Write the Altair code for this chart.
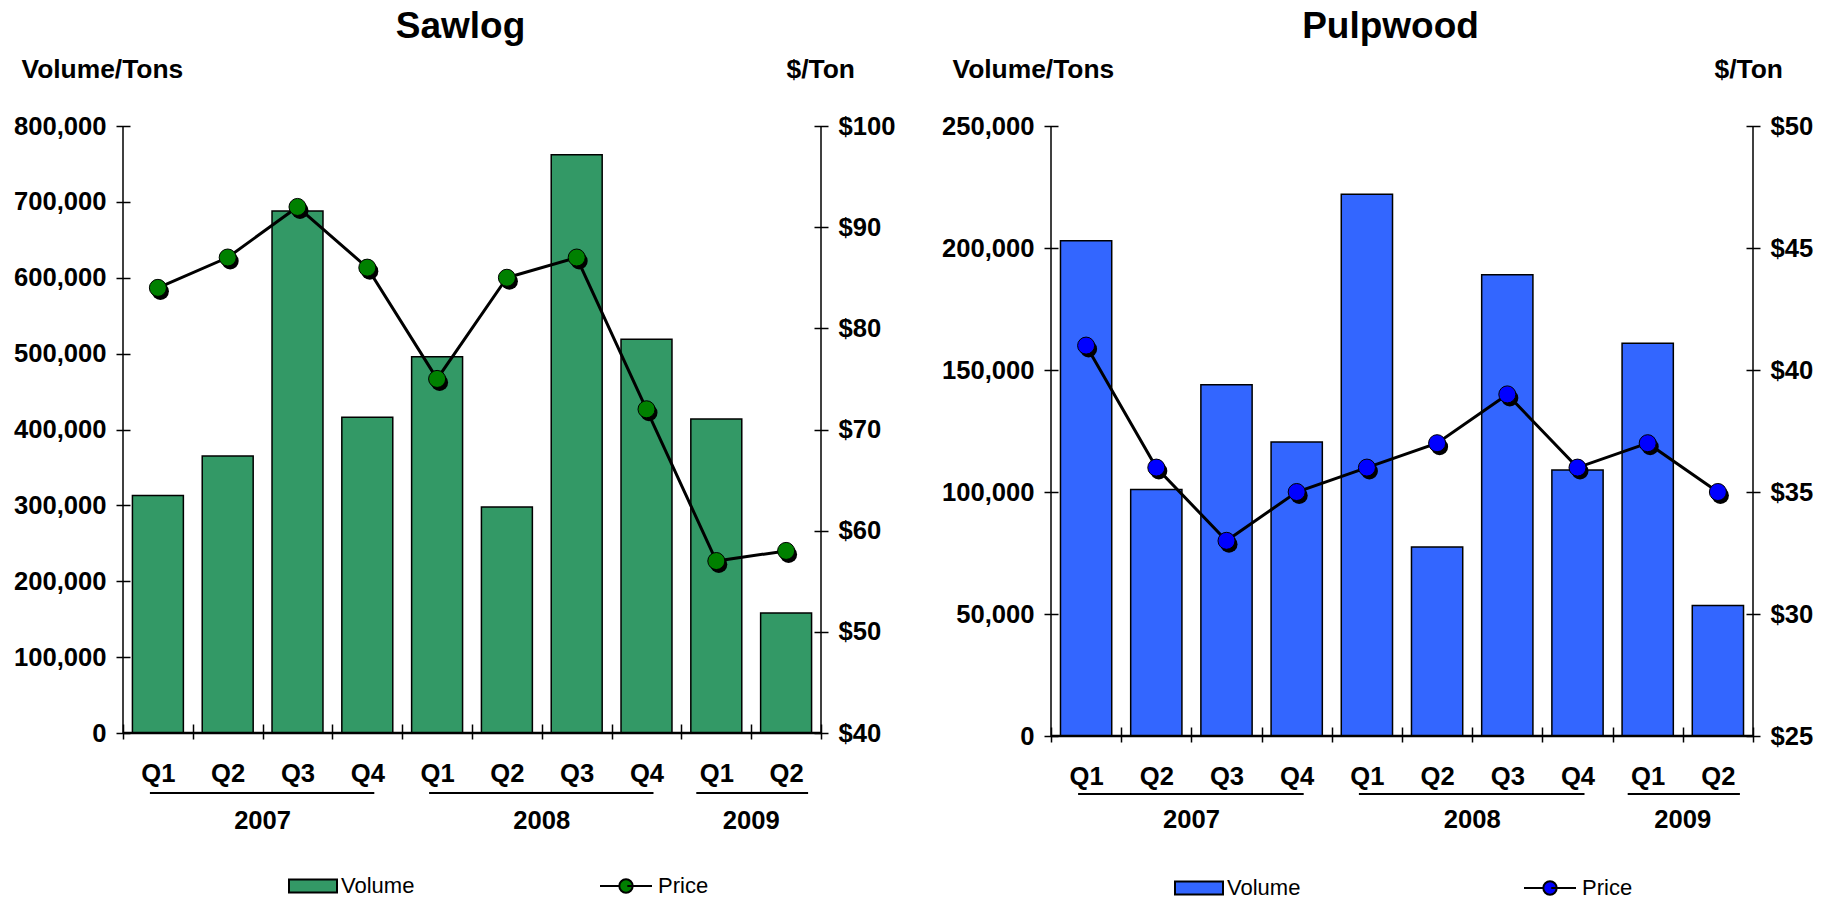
import altair as alt
import pandas as pd

FONT = "Liberation Sans"

# Quarters on the category axis, grouped by year
quarters = ["Q1", "Q2", "Q3", "Q4", "Q1", "Q2", "Q3", "Q4", "Q1", "Q2"]
years = ["2007", "2007", "2007", "2007", "2008", "2008", "2008", "2008", "2009", "2009"]

# Sawlog: volume (tons) and price ($/ton)
sawlog_volume = [313000, 365000, 688000, 416000, 496000, 298000, 762000, 519000, 414000, 158000]
sawlog_price = [84, 87, 92, 86, 75, 85, 87, 72, 57, 58]

# Pulpwood: volume (tons) and price ($/ton)
pulp_volume = [203000, 101000, 144000, 120500, 222000, 77500, 189000, 109000, 161000, 53500]
pulp_price = [41, 36, 33, 35, 36, 37, 39, 36, 37, 35]

# Axis tick values
sawlog_volume_ticks = [0, 100000, 200000, 300000, 400000, 500000, 600000, 700000, 800000]
sawlog_price_ticks = [40, 50, 60, 70, 80, 90, 100]
pulp_volume_ticks = [0, 50000, 100000, 150000, 200000, 250000]
pulp_price_ticks = [25, 30, 35, 40, 45, 50]

series_names = ["Volume", "Price"]

keys = [f"{y} {q}" for y, q in zip(years, quarters)]

# Year groups: first/last quarter of each year and the quarter whose right edge is the group centre
year_names = list(dict.fromkeys(years))
year_first = [keys[years.index(y)] for y in year_names]
year_last = [keys[len(years) - 1 - years[::-1].index(y)] for y in year_names]
year_count = [years.count(y) for y in year_names]
year_anchor = [keys[years.index(y) + c // 2 - 1] for y, c in zip(year_names, year_count)]

# Legend symbols (unit box scaled by the legend symbol size)
RECT_PATH = "M-2.4,-0.65H2.4V0.65H-2.4Z"
PRICE_PATH = ("M-3.0,0H-1.07M-0.27,0H2.2"
              "M-1.07,0A0.67,0.67 0 1,0 0.27,0A0.67,0.67 0 1,0 -1.07,0Z")


def panel(title, volume, price, vol_ticks, price_ticks, bar_color, dot_color,
          width, height, lay):
    df = pd.DataFrame({"key": keys, "volume": volume, "price": price})
    span_df = pd.DataFrame({"key": year_first, "key_end": year_last,
                            "year": year_names, "n": year_count})
    label_df = pd.DataFrame({"key": year_anchor, "year": year_names})
    legend_df = pd.DataFrame({"series": series_names})
    one_row = pd.DataFrame({"z": [0]})

    x_scale = alt.Scale(domain=keys, paddingInner=0, paddingOuter=0)
    x_axis = alt.Axis(
        title=None, labelExpr="split(datum.label, ' ')[1]", labelAngle=0,
        tickBand="extent", offset=-9, tickSize=15, tickWidth=1.5, domain=False,
        labelPadding=22, labelFontSize=25.6, labelFontWeight="bold",
    )
    x = alt.X("key:N", scale=x_scale, axis=x_axis)
    x_plain = alt.X("key:N", scale=x_scale)

    bars = alt.Chart(df).mark_bar(
        width={"band": 0.73}, color=bar_color, stroke="black", strokeWidth=1.5
    ).encode(
        x=x,
        y=alt.Y("volume:Q",
                scale=alt.Scale(domain=[vol_ticks[0], vol_ticks[-1]], nice=False),
                axis=alt.Axis(
                    orient="left", values=vol_ticks, format=",.0f", offset=-7,
                    tickSize=14, tickWidth=1.5, domain=False, labelPadding=10,
                    labelOverlap=False,
                    title="Volume/Tons", titleAngle=0, titleAlign="left",
                    titleBaseline="alphabetic", titleX=lay["left_title_x"], titleY=-49,
                )),
    )

    price_y = alt.Y("price:Q",
                    scale=alt.Scale(domain=[price_ticks[0], price_ticks[-1]], nice=False),
                    axis=alt.Axis(
                        orient="right", values=price_ticks, format="$,.0f", offset=-7,
                        tickSize=14, tickWidth=1.5, domain=False, labelPadding=10,
                        labelOverlap=False,
                        title="$/Ton", titleAngle=0, titleAlign="left",
                        titleBaseline="alphabetic", titleX=lay["right_title_x"], titleY=-49,
                    ))
    base = alt.Chart(df).encode(x=x_plain, y=price_y)
    line = base.mark_line(color="black", strokeWidth=3)
    shadow = base.mark_circle(size=290, color="black", opacity=1, xOffset=2.5, yOffset=3.5)
    dots = base.mark_circle(size=290, color=dot_color, opacity=1,
                            stroke="black", strokeWidth=1)
    price_layer = alt.layer(line, shadow, dots)

    frame_left = alt.Chart(one_row).mark_rule(color="black", strokeWidth=1.5).encode(
        x=alt.value(0), y=alt.value(0), y2=alt.value(height))
    frame_right = alt.Chart(one_row).mark_rule(color="black", strokeWidth=1.5).encode(
        x=alt.value(width), y=alt.value(0), y2=alt.value(height))
    frame_bottom = alt.Chart(one_row).mark_rule(color="black", strokeWidth=2.5).encode(
        x=alt.value(0), x2=alt.value(width), y=alt.value(height))

    span_full = alt.Chart(span_df).transform_filter("datum.n == 4").mark_rule(
        color="black", strokeWidth=2, xOffset=-8, x2Offset=7
    ).encode(x=x_plain, x2="key_end:N", y=alt.value(height + lay["line_dy"]))
    span_part = alt.Chart(span_df).transform_filter("datum.n < 4").mark_rule(
        color="black", strokeWidth=2, xOffset=-20, x2Offset=22
    ).encode(x=x_plain, x2="key_end:N", y=alt.value(height + lay["line_dy"]))

    year_text = alt.Chart(label_df).mark_text(
        font=FONT, fontSize=25.6, fontWeight="bold", color="black",
        baseline="alphabetic", align="center"
    ).encode(x=alt.X("key:N", scale=x_scale, bandPosition=1),
             y=alt.value(height + lay["text_dy"]), text="year:N")

    leg = alt.Legend(
        title=None, orient="none", legendX=lay["legend_x"], legendY=lay["legend_y"],
        direction="horizontal", columns=2, columnPadding=lay["legend_gap"],
        symbolSize=400, symbolStrokeWidth=2,
        symbolOpacity=1, labelFont=FONT, labelFontSize=22, labelColor="black",
        labelFontWeight="normal", labelOffset=17, padding=0,
    )
    legend_layer = alt.Chart(legend_df).mark_point(
        opacity=0, stroke="black", strokeWidth=2
    ).encode(
        fill=alt.Fill("series:N", legend=leg,
                      scale=alt.Scale(domain=series_names, range=[bar_color, dot_color])),
        shape=alt.Shape("series:N", legend=leg,
                        scale=alt.Scale(domain=series_names, range=[RECT_PATH, PRICE_PATH])),
    )

    return alt.layer(
        bars, frame_left, frame_right, frame_bottom, price_layer,
        span_full, span_part, year_text, legend_layer,
    ).resolve_scale(y="independent").properties(
        width=width, height=height,
        title=alt.TitleParams(title, font=FONT, fontSize=37, fontWeight="bold",
                              color="black", anchor="middle", frame="group",
                              dx=-11.5, offset=10),
    )


sawlog = panel("Sawlog", sawlog_volume, sawlog_price, sawlog_volume_ticks,
               sawlog_price_ticks, "#339966", "#008000", 698, 607,
               {"left_title_x": -109, "right_title_x": -28, "line_dy": 60,
                "text_dy": 96, "legend_x": 179, "legend_y": 749, "legend_gap": 181})
pulpwood = panel("Pulpwood", pulp_volume, pulp_price, pulp_volume_ticks,
                 pulp_price_ticks, "#3366FF", "#0000FF", 702, 610,
                 {"left_title_x": -106, "right_title_x": -32, "line_dy": 58,
                  "text_dy": 92, "legend_x": 137, "legend_y": 751, "legend_gap": 219})

chart = alt.hconcat(sawlog, pulpwood, spacing=46).resolve_scale(
    x="independent", y="independent", fill="independent", shape="independent"
).resolve_legend(fill="independent", shape="independent").properties(
    padding={"left": 13, "top": 8, "right": 5, "bottom": 0}
).configure_view(stroke=None).configure_axis(
    labelFont=FONT, titleFont=FONT, labelColor="black", titleColor="black",
    labelFontWeight="bold", titleFontWeight="bold", labelFontSize=25.6,
    titleFontSize=26.4, tickColor="black", domainColor="black", grid=False,
)

chart.save("out.html", embed_options={"renderer": "svg", "actions": False})
